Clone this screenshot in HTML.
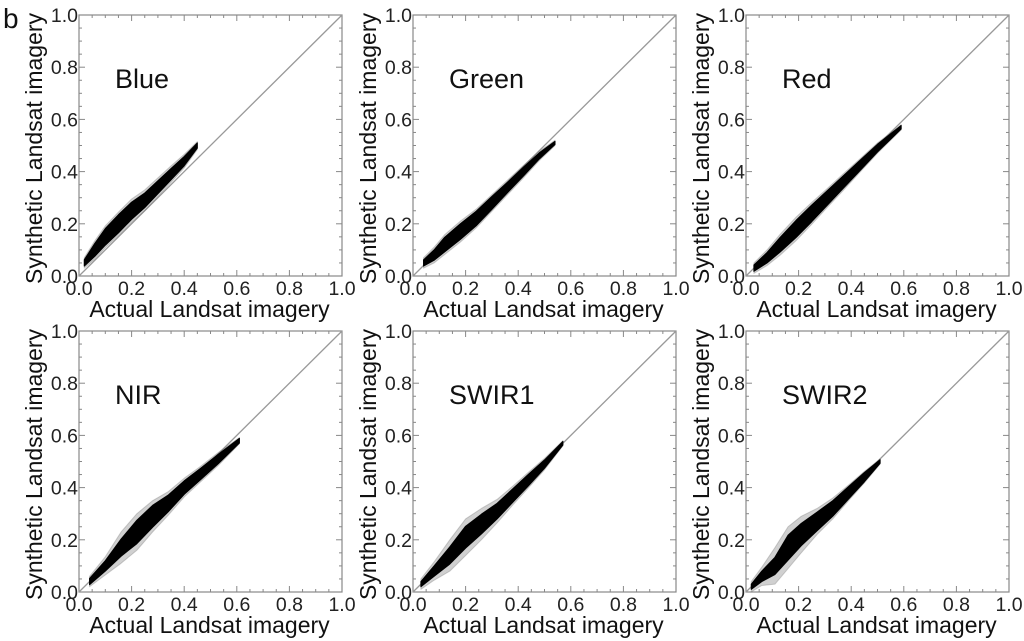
<!DOCTYPE html>
<html><head><meta charset="utf-8"><style>
html,body{margin:0;padding:0;background:#fff;}
svg{display:block;font-family:"Liberation Sans",Arial,sans-serif;}
</style></head><body>
<svg id="fig" width="1024" height="641" viewBox="0 0 1024 641">
<text x="3" y="28" font-size="28" fill="#111">b</text>
</svg>
<script>
// band names
const bandNames = ["Blue","Green","Red","NIR","SWIR1","SWIR2"];
// sample x positions (actual reflectance) per band
const bandX = [
 [0.02,0.06,0.10,0.15,0.20,0.25,0.30,0.35,0.40,0.45],
 [0.04,0.08,0.12,0.18,0.24,0.30,0.36,0.42,0.48,0.54],
 [0.03,0.08,0.13,0.19,0.25,0.31,0.37,0.43,0.50,0.59],
 [0.04,0.10,0.16,0.22,0.28,0.34,0.40,0.46,0.53,0.61],
 [0.03,0.08,0.14,0.20,0.26,0.32,0.38,0.44,0.50,0.57],
 [0.02,0.06,0.11,0.16,0.21,0.27,0.33,0.39,0.45,0.51]
];
// centre of cloud (synthetic reflectance)
const bandY = [
 [0.05,0.10,0.15,0.20,0.25,0.29,0.34,0.39,0.44,0.50],
 [0.05,0.08,0.12,0.17,0.22,0.28,0.34,0.40,0.46,0.51],
 [0.03,0.07,0.12,0.18,0.24,0.30,0.36,0.42,0.49,0.57],
 [0.04,0.10,0.17,0.23,0.29,0.34,0.40,0.45,0.51,0.58],
 [0.03,0.08,0.14,0.21,0.26,0.31,0.37,0.43,0.49,0.57],
 [0.02,0.06,0.10,0.17,0.22,0.27,0.32,0.38,0.44,0.50]
];
// dense core half-width
const bandCore = [
 [0.012,0.025,0.032,0.035,0.033,0.028,0.025,0.022,0.018,0.01],
 [0.012,0.02,0.028,0.03,0.028,0.025,0.02,0.017,0.012,0.006],
 [0.012,0.02,0.028,0.033,0.032,0.028,0.024,0.02,0.015,0.007],
 [0.012,0.02,0.033,0.045,0.042,0.032,0.026,0.022,0.018,0.009],
 [0.01,0.02,0.033,0.042,0.038,0.03,0.026,0.022,0.016,0.007],
 [0.01,0.02,0.033,0.048,0.043,0.036,0.03,0.024,0.018,0.007]
];
// sparse outer scatter half-width
const bandOuter = [
 [0.02,0.035,0.042,0.045,0.045,0.04,0.036,0.032,0.026,0.015],
 [0.02,0.03,0.038,0.04,0.036,0.032,0.028,0.024,0.018,0.01],
 [0.02,0.03,0.04,0.045,0.042,0.036,0.032,0.026,0.02,0.01],
 [0.02,0.035,0.06,0.07,0.06,0.045,0.036,0.03,0.025,0.012],
 [0.02,0.035,0.06,0.07,0.06,0.045,0.036,0.03,0.022,0.01],
 [0.02,0.035,0.07,0.08,0.07,0.05,0.04,0.03,0.022,0.01]
];
const tickLabels = ["0.0","0.2","0.4","0.6","0.8","1.0"];
const tickValues = [0,0.2,0.4,0.6,0.8,1.0];

const NS="http://www.w3.org/2000/svg";
const svg=document.getElementById('fig');
const colX=[79,413,746], rowY=[15,331], W=263, H=261;
function mk(tag,attrs,parent){const e=document.createElementNS(NS,tag);for(const k in attrs)e.setAttribute(k,attrs[k]);(parent||svg).appendChild(e);return e;}

bandNames.forEach((name,i)=>{
  const x0=colX[i%3], y0=rowY[Math.floor(i/3)];
  const sx=v=>x0+v*W, sy=v=>y0+H-v*H;
  const g=mk('g',{});
  
  
  const box=mk('rect',{x:x0,y:y0,width:W,height:H,fill:'#fff',stroke:'#888','stroke-width':1.2},g);
  
  
  for(let k=1;k<20;k++){
    const v=k/20, len=(k%4===0)?6:3;
    mk('line',{x1:sx(v),y1:y0+H,x2:sx(v),y2:y0+H-len,stroke:'#888'},g);
    mk('line',{x1:sx(v),y1:y0,x2:sx(v),y2:y0+len,stroke:'#888'},g);
    mk('line',{x1:x0,y1:sy(v),x2:x0+len,y2:sy(v),stroke:'#888'},g);
    mk('line',{x1:x0+W,y1:sy(v),x2:x0+W-len,y2:sy(v),stroke:'#888'},g);
  }
  const one=mk('line',{x1:sx(0),y1:sy(0),x2:sx(1),y2:sy(1),stroke:'#999','stroke-width':1.3},g);
  
  
  const xs=bandX[i], ys=bandY[i];
  function poly(hw,fill,op,nm){
    let up=xs.map((x,j)=>sx(x)+','+sy(ys[j]+hw[j]));
    let lo=xs.map((x,j)=>sx(x)+','+sy(ys[j]-hw[j])).reverse();
    const p=mk('polygon',{points:up.concat(lo).join(' '),fill:fill,'fill-opacity':op,'stroke':fill,'stroke-opacity':op,'stroke-width':1,'stroke-linejoin':'round'},g);
    
    
  }
  poly(bandOuter[i],'#777',0.35,'scatter-halo');
  poly(bandCore[i],'#000',1,'scatter-core');
  tickValues.forEach((v,j)=>{
    const t=mk('text',{x:x0-1,y:sy(v)+7,'text-anchor':'end','font-size':19.5,fill:'#222'},g);
    t.textContent=tickLabels[j];
    
    
    const u=mk('text',{x:sx(v),y:y0+H+19,'text-anchor':'middle','font-size':19.5,fill:'#222'},g);
    u.textContent=tickLabels[j];
    
    
  });
  const xt=mk('text',{x:x0+H/2,y:y0+H+41,'text-anchor':'middle','font-size':23,fill:'#111'},g);
  xt.textContent='Actual Landsat imagery';
  
  
  const cy=y0+H/2+3, tx=x0-37;
  const yt=mk('text',{x:tx,y:cy,'text-anchor':'middle','font-size':23,fill:'#111',transform:'rotate(-90 '+tx+' '+cy+')'},g);
  yt.textContent='Synthetic Landsat imagery';
  
  
  const lb=mk('text',{x:x0+36,y:y0+73,'font-size':27,fill:'#111'},g);
  lb.textContent=name;
  
  
});
</script>
</body></html>
